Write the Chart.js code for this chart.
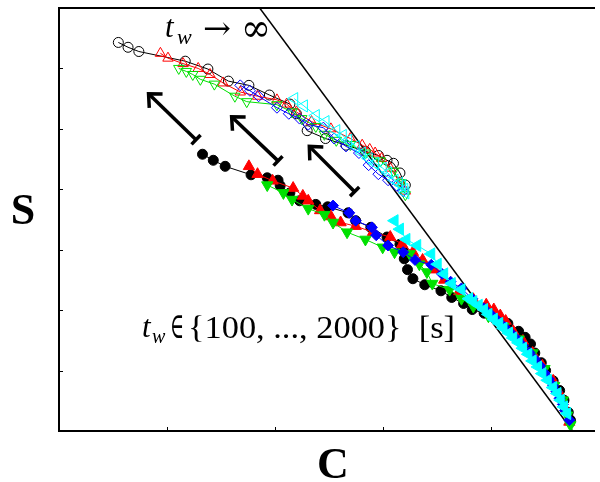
<!DOCTYPE html>
<html>
<head>
<meta charset="utf-8">
<script src="https://cdn.jsdelivr.net/npm/chart.js@4.4.1/dist/chart.umd.min.js"></script>
<style>
  html, body { margin: 0; padding: 0; background: #fff; }
  #wrap { width: 600px; height: 482px; position: relative; }
</style>
</head>
<body>
<div id="wrap"><canvas id="chart"></canvas></div>
<script>
// Tick positions (unlabelled in the figure)
const xTicks = [1, 2, 3, 4];
const yTicks = [1, 2, 3, 4, 5, 6];

// Upper branch (t_w -> infinity), open symbols
const openBlackC = [0.55, 0.64, 0.74, 1.17, 1.38, 1.57, 1.76, 1.95, 2.14, 2.20, 2.30, 2.47, 2.66, 2.84, 2.96, 3.04, 3.10, 3.16, 3.21];
const openBlackS = [6.43, 6.35, 6.28, 6.12, 5.99, 5.79, 5.72, 5.56, 5.41, 5.25, 4.97, 4.84, 4.73, 4.63, 4.56, 4.48, 4.43, 4.27, 4.07];
const openRedC = [0.94, 1.01, 1.15, 1.29, 1.40, 1.52, 1.68, 1.84, 2.02, 2.11, 2.20, 2.34, 2.52, 2.70, 2.81, 2.88, 2.93, 2.99, 3.07, 3.16, 3.21];
const openRedS = [6.25, 6.17, 6.08, 6.00, 5.90, 5.76, 5.61, 5.54, 5.48, 5.41, 5.28, 5.12, 5.00, 4.84, 4.73, 4.66, 4.60, 4.51, 4.35, 4.11, 3.97];
const openGreenC = [1.11, 1.18, 1.24, 1.31, 1.44, 1.63, 1.74, 2.02, 2.16, 2.25, 2.38, 2.46, 2.57, 2.70, 2.84, 2.98, 3.10, 3.17, 3.21];
const openGreenS = [6.00, 5.95, 5.90, 5.82, 5.74, 5.54, 5.45, 5.40, 5.28, 5.17, 5.04, 4.91, 4.81, 4.74, 4.60, 4.47, 4.30, 4.11, 3.91];
const openBlueC = [1.68, 1.77, 1.85, 2.02, 2.13, 2.23, 2.31, 2.45, 2.55, 2.66, 2.78, 2.87, 2.96, 3.05, 3.13, 3.19];
const openBlueS = [5.72, 5.63, 5.54, 5.35, 5.25, 5.17, 5.07, 5.02, 4.84, 4.71, 4.60, 4.40, 4.25, 4.15, 4.06, 3.97];
const openCyanC = [2.18, 2.27, 2.38, 2.47, 2.57, 2.63, 2.68, 2.75, 2.81, 2.87, 2.93, 3.00, 3.05, 3.11, 3.15, 3.18, 3.20, 3.21];
const openCyanS = [5.50, 5.38, 5.22, 5.12, 4.97, 4.89, 4.81, 4.71, 4.60, 4.51, 4.43, 4.35, 4.27, 4.15, 4.10, 4.06, 4.00, 3.94];

// Lower branch (t_w in {100,...,2000} s), filled symbols
const fillBlackC = [1.33, 1.43, 1.54, 1.78, 1.93, 2.03, 2.05, 2.14, 2.23, 2.38, 2.49, 2.68, 2.75, 2.89, 3.04, 3.16, 3.19, 3.20, 3.23, 3.28, 3.39, 3.54, 3.64, 3.75, 3.83, 3.94, 4.07, 4.16, 4.26, 4.32, 4.37, 4.41, 4.47, 4.51, 4.58, 4.64, 4.68, 4.72, 4.74];
const fillBlackS = [4.58, 4.48, 4.38, 4.24, 4.19, 4.15, 4.06, 3.94, 3.81, 3.75, 3.71, 3.61, 3.48, 3.37, 3.21, 3.09, 2.99, 2.85, 2.67, 2.52, 2.42, 2.32, 2.21, 2.11, 2.01, 1.95, 1.85, 1.78, 1.65, 1.55, 1.44, 1.29, 1.13, 1.00, 0.83, 0.67, 0.51, 0.31, 0.18];
const fillRedC = [1.76, 1.84, 1.98, 2.17, 2.26, 2.31, 2.42, 2.52, 2.61, 2.75, 2.91, 3.07, 3.18, 3.28, 3.37, 3.48, 3.57, 3.71, 3.84, 3.96, 4.03, 4.09, 4.14, 4.21, 4.30, 4.39, 4.48, 4.58, 4.65, 4.70, 4.73];
const fillRedS = [4.38, 4.25, 4.14, 4.02, 3.89, 3.81, 3.65, 3.55, 3.45, 3.39, 3.29, 3.21, 3.09, 2.96, 2.83, 2.67, 2.50, 2.31, 2.18, 2.09, 2.01, 1.91, 1.82, 1.65, 1.49, 1.29, 1.08, 0.83, 0.59, 0.34, 0.15];
const fillGreenC = [1.93, 2.08, 2.16, 2.31, 2.46, 2.54, 2.67, 2.84, 3.00, 3.11, 3.25, 3.34, 3.41, 3.46, 3.62, 3.73, 3.84, 3.98, 4.12, 4.26, 4.39, 4.50, 4.59, 4.67, 4.71, 4.74];
const fillGreenS = [4.07, 3.94, 3.83, 3.68, 3.58, 3.45, 3.29, 3.17, 3.04, 2.96, 2.93, 2.76, 2.63, 2.44, 2.34, 2.19, 2.06, 1.90, 1.73, 1.52, 1.29, 1.03, 0.75, 0.51, 0.26, 0.10];
const fillBlueC = [2.54, 2.69, 2.75, 2.90, 2.94, 3.05, 3.19, 3.30, 3.45, 3.55, 3.63, 3.73, 3.83, 3.94, 4.01, 4.07, 4.13, 4.19, 4.25, 4.30, 4.36, 4.41, 4.46, 4.50, 4.54, 4.58, 4.61, 4.64, 4.67, 4.69, 4.73];
const fillBlueS = [3.73, 3.61, 3.48, 3.37, 3.24, 3.07, 2.96, 2.83, 2.75, 2.60, 2.47, 2.36, 2.19, 2.03, 1.92, 1.82, 1.72, 1.62, 1.51, 1.41, 1.30, 1.19, 1.08, 0.96, 0.86, 0.75, 0.65, 0.54, 0.44, 0.34, 0.18];
const fillCyanC = [3.11, 3.16, 3.22, 3.32, 3.45, 3.51, 3.57, 3.64, 3.73, 3.80, 3.84, 3.89, 3.94, 3.98, 4.03, 4.08, 4.12, 4.17, 4.21, 4.26, 4.30, 4.35, 4.39, 4.44, 4.48, 4.53, 4.58, 4.62, 4.65, 4.68, 4.71];
const fillCyanS = [3.48, 3.34, 3.17, 3.07, 2.93, 2.76, 2.60, 2.44, 2.34, 2.19, 2.14, 2.08, 2.01, 1.93, 1.85, 1.78, 1.70, 1.62, 1.54, 1.46, 1.37, 1.27, 1.16, 1.06, 0.95, 0.84, 0.72, 0.62, 0.51, 0.40, 0.29];

// Limiting straight line
const limitC = [1.86, 4.76];
const limitS = [7.0, 0.0];

// Arrows: [tailC, tailS, headC, headS]
const arrows = [
    [1.27, 4.82, 0.83, 5.58],
    [2.03, 4.47, 1.60, 5.20],
    [2.74, 3.96, 2.32, 4.71]
];

const zip = (xs, ys) => xs.map((x, i) => ({ x: x, y: ys[i] }));
const clear = 'rgba(255,255,255,0)';

function series(xs, ys, color, style, opts) {
    return Object.assign({
        data: zip(xs, ys),
        showLine: true,
        borderColor: color,
        borderWidth: 1,
        pointStyle: style,
        pointBorderColor: color,
        pointBackgroundColor: color,
        pointBorderWidth: 1,
        pointRadius: 5
    }, opts || {});
}

const datasets = [
    series(fillCyanC, fillCyanS, '#00ffff', 'triangle', { pointRotation: -90, pointRadius: 7 }),
    series(fillBlueC, fillBlueS, '#0000ff', 'rectRot', { pointRadius: 5.5 }),
    series(fillGreenC, fillGreenS, '#00e000', 'triangle', { pointRotation: 180, pointRadius: 6.5 }),
    series(fillRedC, fillRedS, '#ff0000', 'triangle', { pointRadius: 6.5 }),
    series(fillBlackC, fillBlackS, '#000000', 'circle', { pointRadius: 5 }),
    series(openCyanC, openCyanS, '#00ffff', 'triangle', { pointRotation: -90, pointRadius: 7, pointBackgroundColor: clear }),
    series(openBlueC, openBlueS, '#0000ff', 'rectRot', { pointRadius: 5.5, pointBackgroundColor: clear }),
    series(openGreenC, openGreenS, '#00e000', 'triangle', { pointRotation: 180, pointRadius: 6, pointBackgroundColor: clear }),
    series(openRedC, openRedS, '#ff0000', 'triangle', { pointRadius: 6, pointBackgroundColor: clear }),
    series(openBlackC, openBlackS, '#000000', 'circle', { pointRadius: 5, pointBackgroundColor: clear }),
    {
        data: zip(limitC, limitS),
        showLine: true,
        borderColor: '#000',
        borderWidth: 1.5,
        pointRadius: 0
    }
];

function drawArrow(ctx, x0, y0, x1, y1) {
    const ang = Math.atan2(y1 - y0, x1 - x0);
    ctx.beginPath();
    ctx.moveTo(x0, y0);
    ctx.lineTo(x1, y1);
    ctx.stroke();
    // head
    const h = 14, a = 0.75;
    ctx.beginPath();
    ctx.moveTo(x1 - h * Math.cos(ang - a), y1 - h * Math.sin(ang - a));
    ctx.lineTo(x1, y1);
    ctx.lineTo(x1 - h * Math.cos(ang + a), y1 - h * Math.sin(ang + a));
    ctx.stroke();
    // flat tail
    const b = 6.5;
    ctx.beginPath();
    ctx.moveTo(x0 + b * Math.sin(ang), y0 - b * Math.cos(ang));
    ctx.lineTo(x0 - b * Math.sin(ang), y0 + b * Math.cos(ang));
    ctx.stroke();
}

// draw text squeezed/stretched to a given width
function fitText(ctx, text, x, y, width) {
    const w = ctx.measureText(text).width;
    ctx.save();
    ctx.translate(x, y);
    ctx.scale(width / w, 1);
    ctx.fillText(text, 0, 0);
    ctx.restore();
}

const decorations = {
    id: 'decorations',
    afterDatasetsDraw(chart) {
        const ctx = chart.ctx;
        const xs = chart.scales.x, ys = chart.scales.y;
        const area = chart.chartArea;
        ctx.save();

        // arrows
        ctx.strokeStyle = '#000';
        ctx.lineWidth = 3.5;
        ctx.lineCap = 'butt';
        ctx.lineJoin = 'miter';
        arrows.forEach(a => {
            drawArrow(ctx, xs.getPixelForValue(a[0]), ys.getPixelForValue(a[1]),
                xs.getPixelForValue(a[2]), ys.getPixelForValue(a[3]));
        });

        // frame (left, top, bottom)
        ctx.lineWidth = 2;
        ctx.lineCap = 'square';
        ctx.beginPath();
        ctx.moveTo(area.right + 2, area.top);
        ctx.lineTo(area.left, area.top);
        ctx.lineTo(area.left, area.bottom);
        ctx.lineTo(area.right + 2, area.bottom);
        ctx.stroke();

        // inward ticks
        ctx.lineWidth = 1;
        ctx.lineCap = 'butt';
        ctx.beginPath();
        yTicks.forEach(v => {
            const p = Math.round(ys.getPixelForValue(v)) + 0.5;
            ctx.moveTo(area.left, p);
            ctx.lineTo(area.left + 4, p);
        });
        xTicks.forEach(v => {
            const p = Math.round(xs.getPixelForValue(v)) + 0.5;
            ctx.moveTo(p, area.bottom);
            ctx.lineTo(p, area.bottom - 4);
        });
        ctx.stroke();

        // annotations
        ctx.fillStyle = '#000';
        ctx.textBaseline = 'alphabetic';
        ctx.textAlign = 'left';
        ctx.font = 'italic 31px "Liberation Serif"';
        ctx.fillText('t', 165, 37);
        ctx.font = 'italic 22px "Liberation Serif"';
        ctx.fillText('w', 177, 44);
        ctx.font = '32px "DejaVu Serif"';
        fitText(ctx, '\u2192', 203, 39, 28);
        ctx.font = '38px "DejaVu Serif"';
        fitText(ctx, '\u221E', 241, 41, 30);

        ctx.font = 'italic 31px "Liberation Serif"';
        ctx.fillText('t', 142, 337);
        ctx.font = 'italic 20px "Liberation Serif"';
        ctx.fillText('w', 152, 343);
        ctx.font = '36px "DejaVu Serif"';
        fitText(ctx, '\u2208', 170, 338, 14);
        ctx.font = '31px "Liberation Serif"';
        fitText(ctx, '{100, ..., 2000}  [s]', 188, 338, 267);

        // axis titles
        ctx.font = 'bold 44px "Liberation Serif"';
        ctx.textAlign = 'center';
        ctx.fillText('S', 23, 224);
        ctx.fillText('C', 333, 478);
        ctx.restore();
    }
};

new Chart(document.getElementById('chart'), {
    type: 'scatter',
    data: { datasets: datasets },
    options: {
        responsive: true,
        maintainAspectRatio: false,
        animation: false,
        layout: { padding: { left: 59, top: 3, right: 0, bottom: 51 } },
        plugins: { legend: { display: false }, tooltip: { enabled: false } },
        scales: {
            x: { type: 'linear', min: 0, max: 4.94, display: false },
            y: { type: 'linear', min: 0, max: 7, display: false }
        }
    },
    plugins: [decorations]
});
</script>
</body>
</html>
